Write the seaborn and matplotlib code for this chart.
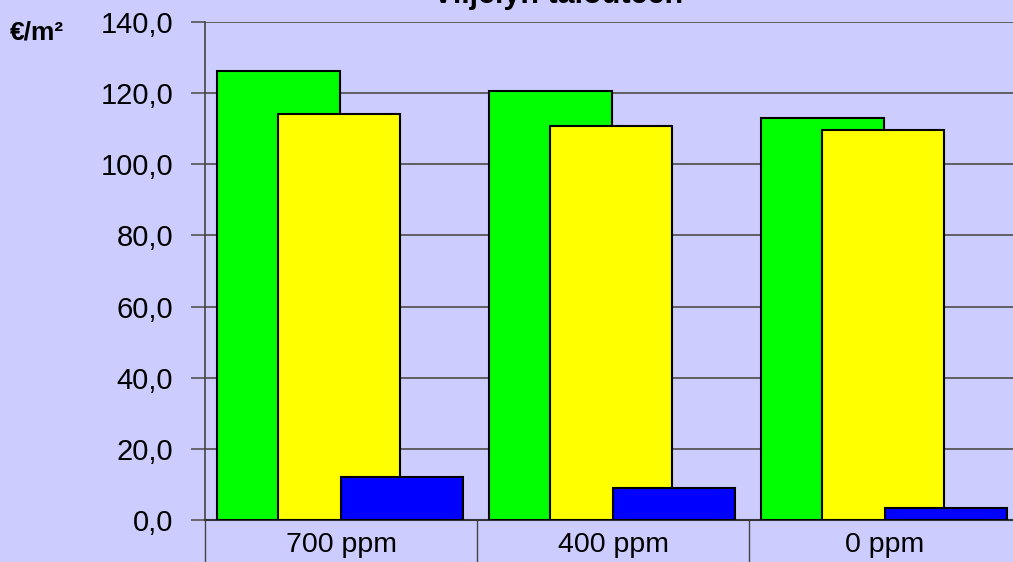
import numpy as np
import pandas as pd
import seaborn as sns
import matplotlib.pyplot as plt
from matplotlib.ticker import FuncFormatter, FixedLocator

# values (euro per m2)
categories = ['700 ppm', '400 ppm', '0 ppm']
tuotot = [126.2, 120.6, 113.0]
kustannukset = [114.1, 110.8, 109.6]
kate = [12.1, 9.0, 3.4]

series = ['Tuotot', 'Kustannukset', 'Kate']
colors = ['#00FF00', '#FFFF00', '#0000FF']
offsets = [-0.23, -0.008, 0.225]

sns.set_style('white')
plt.rcParams['font.family'] = ['Liberation Sans', 'DejaVu Sans']
plt.rcParams['text.color'] = 'black'
plt.rcParams['xtick.color'] = 'black'
plt.rcParams['ytick.color'] = 'black'

bg = '#CCCCFF'
fig = plt.figure(figsize=(10.13, 5.62), dpi=100, facecolor=bg)
ax = fig.add_axes([205/1013, 42/562, 816/1013, 498/562], facecolor=bg)

idx = np.arange(len(categories))
for name, vals, col, off in zip(series, [tuotot, kustannukset, kate], colors, offsets):
    d = pd.DataFrame({'x': idx + off, 'y': vals})
    sns.barplot(data=d, x='x', y='y', native_scale=True, width=0.45, color=col,
                saturation=1, edgecolor='black', linewidth=1.5, ax=ax, zorder=3)

ax.set_xlim(-0.5, 2.5)
ax.set_ylim(0, 140)
ax.set_yticks(np.arange(0, 141, 20))
ax.yaxis.set_major_formatter(FuncFormatter(lambda v, p: f'{v:.1f}'.replace('.', ',')))
ax.grid(axis='y', color='#555555', linewidth=1.3, zorder=0)
ax.set_axisbelow(True)

# category separators as long ticks, labels on minor ticks
ax.xaxis.set_major_locator(FixedLocator([-0.5, 0.5, 1.5, 2.5]))
ax.xaxis.set_major_formatter(FuncFormatter(lambda v, p: ''))
ax.xaxis.set_minor_locator(FixedLocator(idx))
ax.set_xticklabels(categories, minor=True)
ax.tick_params(axis='x', which='major', length=45, width=1, color='#444444', bottom=True)
ax.tick_params(axis='x', which='minor', length=0, pad=9, labelsize=20.5, labelcolor='black')
ax.tick_params(axis='y', length=10, width=1.2, color='#555555', pad=13, labelsize=21,
               labelcolor='black', left=True)

for s in ['top', 'right']:
    ax.spines[s].set_visible(False)
ax.spines['left'].set_color('#444444')
ax.spines['bottom'].set_color('#333333')
ax.spines['left'].set_linewidth(1.2)
ax.spines['bottom'].set_linewidth(1.5)
ax.set_xlabel('')
ax.set_ylabel('')

fig.text(10/1013, 1 - 33/562, '€/m²', fontsize=19, fontweight='bold', ha='left', va='center',
         color='black')
fig.text(558/1013, 1 - 3/562, 'Viljelyn talouteen', fontsize=22, fontweight='bold',
         ha='center', va='baseline', color='black')

fig.savefig('out.png', dpi=100, facecolor=bg)
